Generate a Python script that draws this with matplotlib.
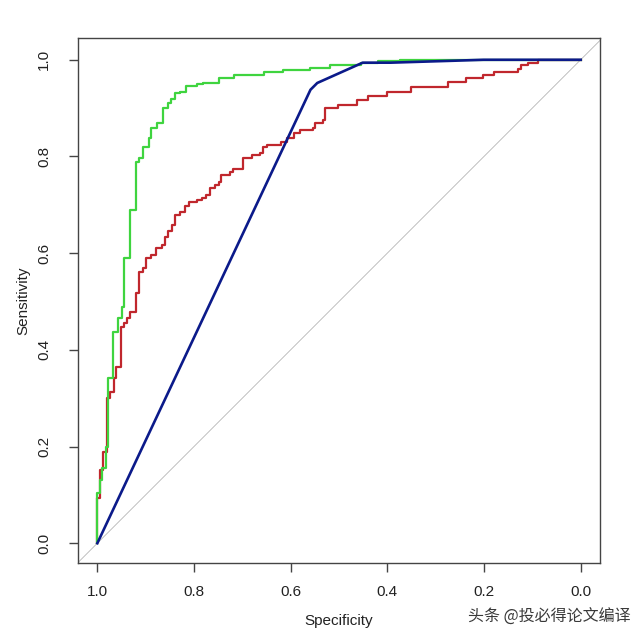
import matplotlib
matplotlib.use("Agg")
import matplotlib.pyplot as plt

# ROC curves: specificity (x, reversed) vs sensitivity (y)
# step curves are listed as corner points (vertical move first, then horizontal)
green_spec = [1.000, 0.994, 0.990, 0.983, 0.977, 0.967, 0.957, 0.950, 0.944, 0.933,
              0.919, 0.913, 0.905, 0.894, 0.888, 0.876, 0.865, 0.853, 0.847, 0.839,
              0.828, 0.816, 0.793, 0.781, 0.749, 0.718, 0.656, 0.615, 0.559, 0.518,
              0.455, 0.420, 0.373, 0.000]
green_sens = [0.000, 0.104, 0.130, 0.155, 0.199, 0.342, 0.437, 0.466, 0.489, 0.590,
              0.689, 0.789, 0.797, 0.820, 0.839, 0.859, 0.870, 0.901, 0.911, 0.919,
              0.932, 0.934, 0.946, 0.950, 0.952, 0.963, 0.969, 0.975, 0.979, 0.983,
              0.990, 0.994, 0.998, 1.000]

red_spec = [1.000, 0.994, 0.988, 0.981, 0.973, 0.965, 0.961, 0.952, 0.944, 0.938,
            0.932, 0.921, 0.913, 0.905, 0.899, 0.888, 0.878, 0.867, 0.859, 0.853,
            0.845, 0.839, 0.828, 0.818, 0.810, 0.793, 0.783, 0.776, 0.766, 0.756,
            0.749, 0.745, 0.725, 0.720, 0.698, 0.679, 0.663, 0.658, 0.648, 0.621,
            0.607, 0.594, 0.580, 0.553, 0.549, 0.534, 0.528, 0.503, 0.462, 0.439,
            0.400, 0.352, 0.275, 0.238, 0.203, 0.180, 0.130, 0.124, 0.110, 0.089,
            0.000]
red_sens = [0.000, 0.093, 0.151, 0.188, 0.300, 0.313, 0.342, 0.364, 0.447, 0.455,
            0.466, 0.478, 0.518, 0.561, 0.569, 0.590, 0.596, 0.611, 0.617, 0.634,
            0.646, 0.658, 0.679, 0.685, 0.698, 0.706, 0.710, 0.714, 0.720, 0.735,
            0.741, 0.747, 0.762, 0.768, 0.774, 0.797, 0.803, 0.807, 0.820, 0.824,
            0.830, 0.839, 0.849, 0.855, 0.859, 0.870, 0.876, 0.901, 0.907, 0.917,
            0.925, 0.934, 0.944, 0.954, 0.963, 0.969, 0.975, 0.981, 0.990, 0.994,
            1.000]

blue_spec = [1.000, 0.559, 0.545, 0.451, 0.393, 0.263, 0.201, 0.000]
blue_sens = [0.000, 0.938, 0.952, 0.994, 0.994, 0.998, 1.000, 1.000]

ticks = [1.0, 0.8, 0.6, 0.4, 0.2, 0.0]

plt.rcParams['font.family'] = ['Liberation Sans', 'DejaVu Sans']

fig = plt.figure(figsize=(6.4, 6.4), dpi=100)
ax = fig.add_axes([0.1219, 0.1203, 0.8156, 0.8203])

ax.axline((1, 0), (0, 1), color='#a8a8a8', lw=0.5, zorder=1)
ax.plot(red_spec, red_sens, drawstyle='steps-pre', color='#c0272d', lw=1.6, zorder=2)
ax.plot(green_spec, green_sens, drawstyle='steps-pre', color='#3fd43f', lw=1.6, zorder=3)
ax.plot(blue_spec, blue_sens, color='#0b1a8a', lw=1.9, zorder=4)

ax.set_xlim(1.04, -0.04)
ax.set_ylim(-0.041, 1.045)
ax.set_xticks(ticks)
ax.set_yticks(ticks)
ax.set_xticklabels([f"{t:.1f}" for t in ticks])
ax.set_yticklabels([f"{t:.1f}" for t in ticks], rotation=90, va='center')

for s in ax.spines.values():
    s.set_color('#444444')
    s.set_linewidth(1.0)
ax.tick_params(axis='both', direction='out', length=6.5, width=1.0, color='#444444',
               labelsize=11, labelcolor='#222222')
ax.tick_params(axis='x', pad=9)
ax.tick_params(axis='y', pad=13)

ax.set_xlabel('Specificity', fontsize=11, color='#222222', labelpad=11)
ax.set_ylabel('Sensitivity', fontsize=11, color='#222222', labelpad=5)

fig.text(0.985, 0.035, '头条 @投必得论文编译', ha='right', va='center', fontsize=11.5,
         color='#3a3a3a', family=['Noto Sans CJK SC', 'DejaVu Sans'])

fig.savefig('out.png', dpi=100, facecolor='white')
